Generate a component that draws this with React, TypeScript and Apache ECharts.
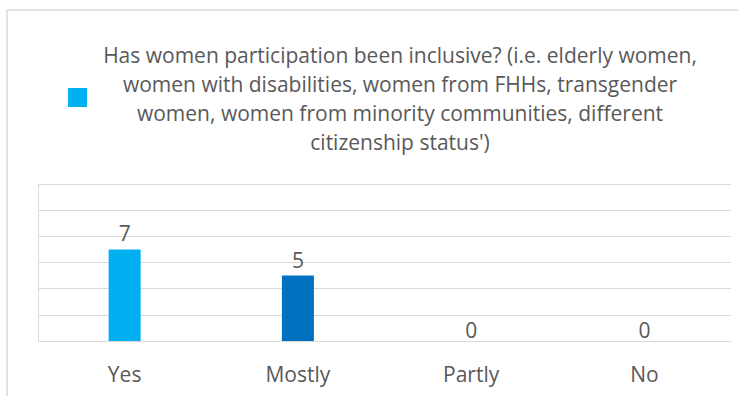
import React, { useEffect, useRef } from "react";
import * as echarts from "echarts";

const categories = ["Yes", "Mostly", "Partly", "No"];
const values = [7, 5, 0, 0];
const barColors = ["#00B0F0", "#0070C0", "#00B0F0", "#0070C0"];
const seriesName =
  "Has women participation been inclusive? (i.e. elderly women,\nwomen with disabilities, women from FHHs, transgender\nwomen, women from minority communities, different\ncitizenship status')";
const yMin = 0;
const yMax = 12;
const yInterval = 2;

const FONT = "'Open Sans', 'Noto Sans', sans-serif";
const TEXT_COLOR = "#595959";
const GRID_COLOR = "#d9d9d9";
const FS = 21;

export default function App() {
  const ref = useRef<HTMLDivElement>(null);

  useEffect(() => {
    if (!ref.current) return;
    const chart = echarts.init(ref.current, undefined, { renderer: "svg" });
    chart.setOption({
      animation: false,
      backgroundColor: "#ffffff",
      color: barColors,
      textStyle: { fontFamily: FONT },
      grid: { left: 38, right: 7, top: 184, bottom: 55, containLabel: false },
      xAxis: {
        type: "category",
        data: categories,
        axisLine: { show: true, lineStyle: { color: GRID_COLOR, width: 1 } },
        axisTick: { show: false },
        axisLabel: {
          color: TEXT_COLOR,
          fontSize: FS,
          fontFamily: FONT,
          lineHeight: 20,
          margin: 23,
        },
      },
      yAxis: {
        type: "value",
        min: yMin,
        max: yMax,
        interval: yInterval,
        axisLabel: { show: false },
        axisTick: { show: false },
        axisLine: { show: true, lineStyle: { color: GRID_COLOR, width: 1 } },
        splitLine: { show: true, lineStyle: { color: GRID_COLOR, width: 1 } },
      },
      series: [
        {
          type: "bar",
          name: seriesName,
          colorBy: "data",
          barWidth: 32,
          data: values.map((v) =>
            v === 0 ? { value: v, label: { distance: 1 } } : v
          ),
          label: {
            show: true,
            position: "top",
            distance: 6,
            color: TEXT_COLOR,
            fontSize: FS,
            fontFamily: FONT,
            lineHeight: 20,
          },
        },
      ],
      graphic: [
        {
          type: "rect",
          silent: true,
          shape: { x: 7, y: 10, width: 800, height: 460 },
          style: { fill: "none", stroke: GRID_COLOR, lineWidth: 1.5 },
        },
        {
          type: "rect",
          silent: true,
          shape: { x: 68, y: 88, width: 19, height: 19 },
          style: { fill: barColors[0] },
        },
        {
          type: "text",
          silent: true,
          x: 400,
          y: 98,
          style: {
            text: seriesName,
            fill: TEXT_COLOR,
            fontSize: FS,
            fontFamily: FONT,
            lineHeight: 29,
            align: "center",
            verticalAlign: "middle",
          },
        },
      ],
    });
    return () => chart.dispose();
  }, []);

  return (
    <div
      ref={ref}
      style={{ position: "fixed", left: 0, top: 0, width: 738, height: 396 }}
    />
  );
}
